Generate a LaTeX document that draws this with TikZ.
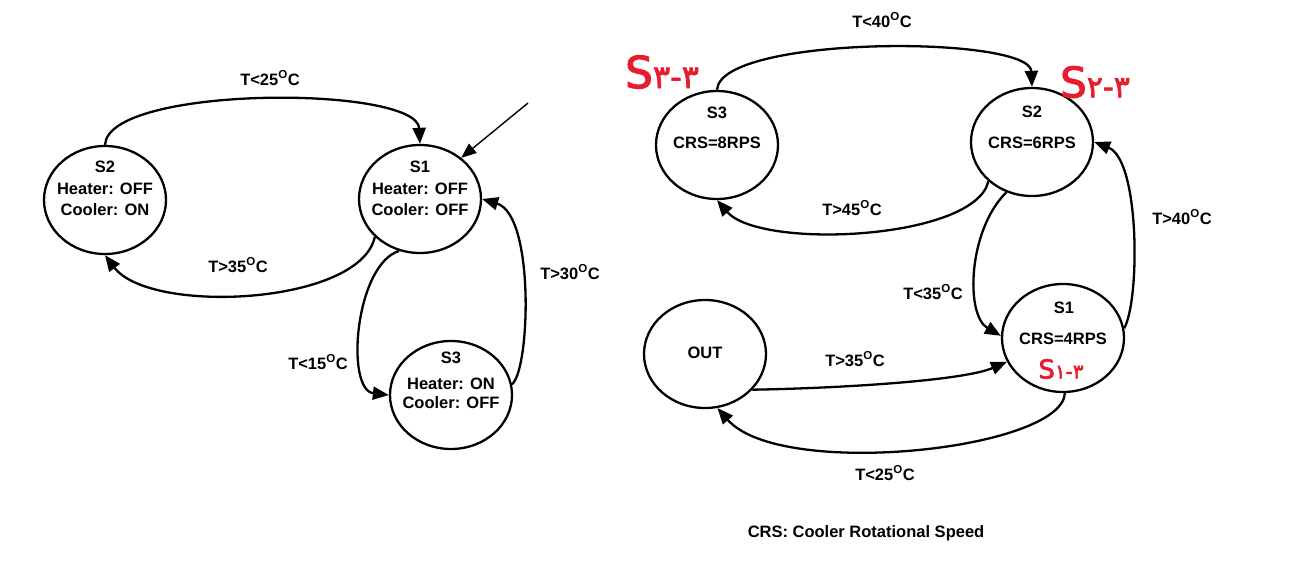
\documentclass[tikz,border=0pt]{standalone}
\usepackage{fontspec}
\setmainfont{Liberation Sans}
\newfontfamily\persianfont[FakeBold=2.5]{DejaVu Sans}
\usetikzlibrary{arrows.meta,shapes.geometric}
\definecolor{handred}{RGB}{232,28,44}
\begin{document}
\begin{tikzpicture}[x=1pt,y=-1pt,
  state/.style={draw, line width=2.3pt, ellipse, minimum width=122pt, minimum height=108pt, inner sep=0pt},
  txt/.style={font=\fontsize{16.5}{19}\selectfont\bfseries, inner sep=0pt},
  trans/.style={line width=2.3pt, -{Triangle[length=16pt,width=13pt]}},
  initarrow/.style={line width=1.4pt, -{Triangle[length=15pt,width=12pt]}},
  hand/.style={text=handred, inner sep=0pt, font=\persianfont}]
\useasboundingbox[fill=white] (0,0) rectangle (1301,586);

% ---------- left diagram ----------
\node[state] (S2L) at (105,200) {};
\node[state] (S1L) at (420,199) {};
\node[state] (S3L) at (451,395) {};

\node[txt] (S2Ln) at (105,167) {S2};
\node[txt] (S2Lh) at (105,189) {Heater: OFF};
\node[txt] (S2Lc) at (105,210) {Cooler: ON};
\node[txt] (S1Ln) at (420,167) {S1};
\node[txt] (S1Lh) at (420,189) {Heater: OFF};
\node[txt] (S1Lc) at (420,210) {Cooler: OFF};
\node[txt] (S3Ln) at (451,358) {S3};
\node[txt] (S3Lh) at (451,384) {Heater: ON};
\node[txt] (S3Lc) at (451,403) {Cooler: OFF};

\draw[trans] (S2L.north) .. controls (108,85) and (417,85) .. (S1L.north);
\draw[trans] (S1L.220) .. controls (360,305) and (150,315) .. (S2L.south);
\draw[trans] (S1L.248) .. controls (355,265) and (345,390) .. (S3L.west);
\draw[trans] (S3L.10) .. controls (530,370) and (535,215) .. (S1L.east);
\coordinate (init) at (528,103);
\draw[initarrow] (init) -- (S1L.45);

\node[txt] (lA) at (270,78) {T<25\textsuperscript{O}C};
\node[txt] (lB) at (238,265) {T>35\textsuperscript{O}C};
\node[txt] (lC) at (318,362) {T<15\textsuperscript{O}C};
\node[txt] (lD) at (570,272) {T>30\textsuperscript{O}C};

% ---------- right diagram ----------
\node[state] (S3R) at (717,145) {};
\node[state] (S2R) at (1032,142) {};
\node[state] (S1R) at (1063,338) {};
\node[state] (OUT) at (705,354) {};

\node[txt] (S3Rn) at (717,113) {S3};
\node[txt] (S3Rc) at (717,143) {CRS=8RPS};
\node[txt] (S2Rn) at (1032,112) {S2};
\node[txt] (S2Rc) at (1032,143) {CRS=6RPS};
\node[txt] (S1Rn) at (1064,308) {S1};
\node[txt] (S1Rc) at (1063,339) {CRS=4RPS};
\node[txt] (OUTn) at (705,353) {OUT};

\draw[trans] (S3R.north) .. controls (720,35) and (1030,35) .. (S2R.north);
\draw[trans] (S2R.222) .. controls (975,240) and (760,250) .. (S3R.south);
\draw[trans] (S2R.243) .. controls (968,230) and (965,315) .. (S1R.178);
\draw[trans] (S1R.9) .. controls (1140,300) and (1140,160) .. (S2R.east);
\draw[trans] (OUT.323) .. controls (850,388) and (965,380) .. (S1R.203);
\draw[trans] (S1R.272) .. controls (1062,450) and (780,480) .. (OUT.283);

\node[txt] (rA) at (882,20) {T<40\textsuperscript{O}C};
\node[txt] (rB) at (852,208) {T>45\textsuperscript{O}C};
\node[txt] (rC) at (933,292) {T<35\textsuperscript{O}C};
\node[txt] (rD) at (1182,217) {T>40\textsuperscript{O}C};
\node[txt] (rE) at (855,359) {T>35\textsuperscript{O}C};
\node[txt] (rF) at (885,473) {T<25\textsuperscript{O}C};

\node[txt] (foot) at (866,533) {CRS: Cooler Rotational Speed};

% ---------- handwritten red marks ----------
\node[hand] (h3) at (662,72) {{\fontsize{44}{44}\selectfont S}{\fontsize{32}{32}\selectfont ۳-۳}};
\node[hand] (h2) at (1095,82) {{\fontsize{42}{42}\selectfont S}{\fontsize{30}{30}\selectfont ۲-۳}};
\node[hand] (h1) at (1061,369) {{\fontsize{26}{26}\selectfont S}{\fontsize{20}{20}\selectfont ۱-۳}};
\end{tikzpicture}
\end{document}
